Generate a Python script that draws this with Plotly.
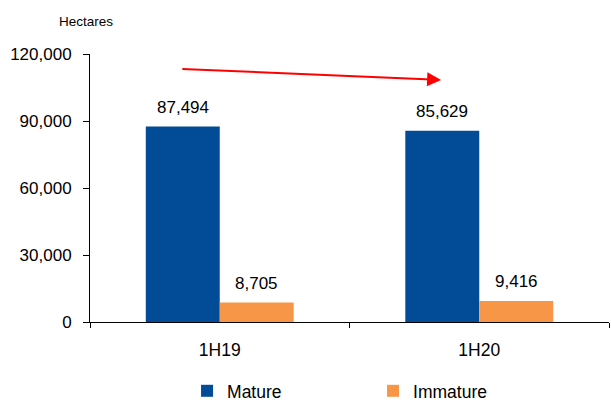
import plotly.graph_objects as go

# Planted area by maturity, half-year comparison
periods = ["1H19", "1H20"]
mature = [87494, 85629]
immature = [8705, 9416]
series_names = ["Mature", "Immature"]
y_ticks = [0, 30000, 60000, 90000, 120000]

BLUE = "#024C97"
ORANGE = "#F79646"
FONT = "Liberation Sans, Arial, sans-serif"

fig = go.Figure()
for name, vals, col in zip(series_names, [mature, immature], [BLUE, ORANGE]):
    fig.add_trace(go.Bar(name=name, x=periods, y=vals, marker_color=col,
                         marker_line_width=0))

# value labels above each bar
annotations = []
for vals, shift in [(mature, -37), (immature, 37)]:
    for p, v in zip(periods, vals):
        annotations.append(dict(x=p, y=v, xref="x", yref="y", text=f"{v:,}",
                                showarrow=False, xshift=shift, yshift=19,
                                yanchor="middle",
                                font=dict(size=17, color="#000000", family=FONT)))

# trend arrow across the top
annotations.append(dict(x=0.853, y=108400, xref="x", yref="y",
                        ax=-0.15, ay=113300, axref="x", ayref="y",
                        showarrow=True, arrowhead=2, arrowsize=1.4,
                        arrowwidth=2, arrowcolor="#FF0000", text=""))

# unit caption above the value axis
annotations.append(dict(x=(86 - 90) / 519, y=1 + (54 - 21) / 268,
                        xref="paper", yref="paper", text="Hectares",
                        xanchor="center", yanchor="middle", showarrow=False,
                        font=dict(size=13.5, color="#000000", family=FONT)))

fig.update_layout(
    width=611, height=402,
    margin=dict(l=90, r=2, t=54, b=80, autoexpand=False),
    paper_bgcolor="white", plot_bgcolor="white",
    barmode="group", bargap=0.43, bargroupgap=0,
    font=dict(family=FONT, color="#000000", size=17),
    showlegend=True,
    legend=dict(orientation="h", x=0.187, xanchor="left", y=-0.19, yanchor="top",
                entrywidth=141, entrywidthmode="pixels",
                font=dict(size=17.5, family=FONT)),
    annotations=annotations,
)

fig.update_yaxes(range=[0, 120000], tickvals=y_ticks, tickformat=",",
                 showline=True, linecolor="#000000", linewidth=1,
                 ticks="outside", ticklen=6, tickcolor="#000000",
                 showgrid=False, zeroline=False, ticklabelstandoff=8,
                 tickfont=dict(size=17, family=FONT))
fig.update_xaxes(showline=True, linecolor="#000000", linewidth=1,
                 ticks="outside", ticklen=5, tickcolor="#000000",
                 tickson="boundaries", showgrid=False, ticklabelstandoff=12,
                 tickfont=dict(size=17.5, family=FONT))

fig.write_html("out.html")
